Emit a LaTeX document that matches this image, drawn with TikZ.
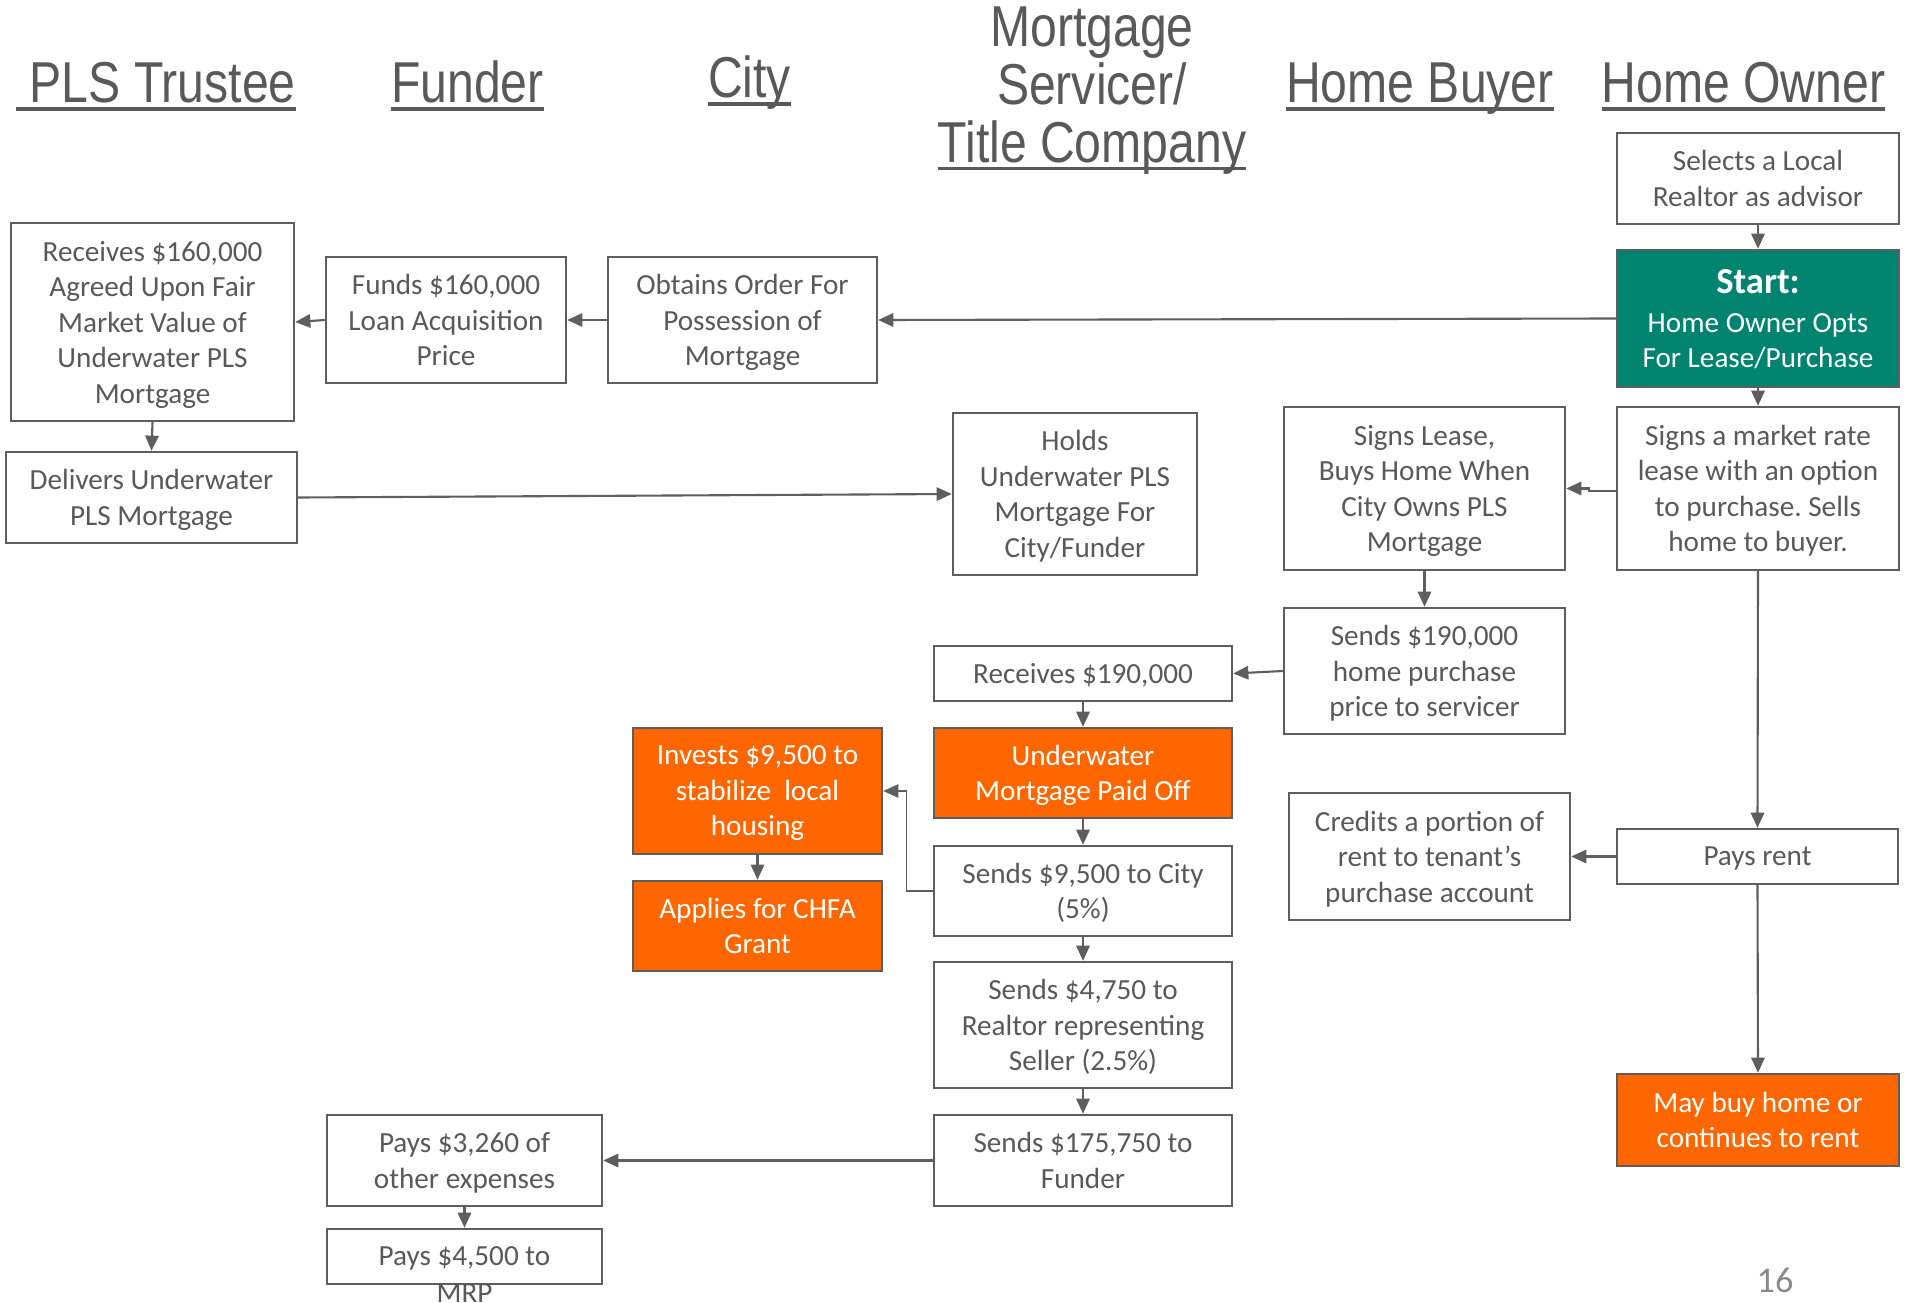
\documentclass[tikz,border=0pt]{standalone}
\usepackage{fontspec}
\setmainfont{Carlito}
\newfontfamily\hdfont[FakeStretch=0.835]{Liberation Sans}
\usepackage{tikz}
\usetikzlibrary{positioning}
\usetikzlibrary{arrows.meta}
\frenchspacing

\definecolor{txtgray}{HTML}{595959}
\definecolor{lngray}{HTML}{5E5E5E}
\definecolor{numgray}{HTML}{8A8A8A}
\definecolor{startgreen}{HTML}{00836F}
\definecolor{hotorange}{HTML}{FF6600}

\newcommand{\hdline}[1]{\setbox0=\hbox{#1}\rlap{\rule[-2.4pt]{\wd0}{1pt}}\box0}

\begin{document}
\begin{tikzpicture}[x=0.01cm, y=-0.01cm]
    \tikzstyle{hd}=[text=txtgray, inner sep=0pt, font=\hdfont\fontsize{16.4}{16.4}\selectfont];
    \tikzstyle{box}=[draw=lngray, line width=0.7pt, rectangle, inner sep=0pt, align=center,
        text=txtgray, font=\fontsize{8.3}{10.1}\selectfont, text depth=0pt];
    \tikzstyle{hot}=[box, fill=hotorange, text=white];
    \tikzstyle{go}=[box, fill=startgreen, text=white];
    \tikzstyle{arr}=[draw=lngray, line width=0.6pt, -{Triangle[length=4.3pt, width=3.8pt]}];
    \tikzset{sz/.style 2 args={minimum width=#1*0.01cm, minimum height=#2*0.01cm}}
    \path[fill=white, use as bounding box] (0,0) rectangle (1908,1303);

    % column heads
    \node[hd, anchor=base] (pls) at (156,102.5) {\hdline{\ PLS Trustee}};
    \node[hd, anchor=base] (fund) at (467.5,102.5) {\hdline{Funder}};
    \node[hd, anchor=base] (city) at (749.5,97.5) {\hdline{City}};
    \node[hd, align=center] (msvc) at (1092,90.5) {Mortgage\\Servicer/\\\hdline{Title Company}};
    \node[hd, anchor=base] (buyer) at (1420,102.5) {\hdline{Home Buyer}};
    \node[hd, anchor=base] (owner) at (1743.5,102.5) {\hdline{Home Owner}};

    % home owner
    \node[box, sz={282}{91}] (select) at (1758,178.5) {Selects a Local\\Realtor as advisor};
    \node[go, sz={282}{137}] (start) at (1758,318.5)
        {{\fontsize{10.4}{12}\selectfont\bfseries Start:}\\[1pt]Home Owner Opts\\For Lease/Purchase};
    \node[box, sz={282}{163}] (market) at (1758,488.5)
        {Signs a market rate\\lease with an option\\to purchase. Sells\\home to buyer.};
    \node[box, sz={281}{55}] (rent) at (1757.5,856.5) {Pays rent};
    \node[hot, sz={282}{92}] (maybuy) at (1758,1120) {May buy home or\\continues to rent};

    % home buyer
    \node[box, sz={281}{163}] (lease) at (1424.5,488.5)
        {Signs Lease,\\Buys Home When\\City Owns PLS\\Mortgage};
    \node[box, sz={281}{126}] (send190) at (1424.5,671)
        {Sends \$190,000\\home purchase\\price to servicer};
    \node[box, sz={281}{127}] (credit) at (1429.5,856.5)
        {Credits a portion of\\rent to tenant’s\\purchase account};

    % servicer / title company
    \node[box, sz={244}{162}] (holds) at (1075,494)
        {Holds\\Underwater PLS\\Mortgage For\\City/Funder};
    \node[box, sz={298}{55}] (rcv190) at (1083,673.5) {Receives \$190,000};
    \node[hot, sz={298}{90}] (paidoff) at (1083,773) {Underwater\\Mortgage Paid Off};
    \node[box, sz={298}{90}] (city5) at (1083,891) {Sends \$9,500 to City\\(5\%)};
    \node[box, sz={298}{126}] (realtor) at (1083,1025)
        {Sends \$4,750 to\\Realtor representing\\Seller (2.5\%)};
    \node[box, sz={298}{91}] (funder) at (1083,1160.5) {Sends \$175,750 to\\Funder};

    % city
    \node[box, sz={269}{126}] (order) at (742.5,320) {Obtains Order For\\Possession of\\Mortgage};
    \node[hot, sz={249}{126}] (invest) at (757.5,791) {Invests \$9,500 to\\stabilize~ local\\housing};
    \node[hot, sz={249}{90}] (chfa) at (757.5,926) {Applies for CHFA\\Grant};

    % funder
    \node[box, sz={240}{126}] (funds) at (446,320) {Funds \$160,000\\Loan Acquisition\\Price};
    \node[box, sz={275}{91}] (expense) at (464.5,1160.5) {Pays \$3,260 of\\other expenses};
    \node[box, sz={275}{55}] (mrp) at (464.5,1256.5) {Pays \$4,500 to};
    \node[text=txtgray, inner sep=0pt, anchor=base, font=\fontsize{8.3}{10.1}\selectfont]
        (mrptxt) at (464.5,1302) {MRP};

    % pls trustee
    \node[box, sz={283}{198}] (rcv160) at (152.5,322)
        {Receives \$160,000\\Agreed Upon Fair\\Market Value of\\Underwater PLS\\Mortgage};
    \node[box, sz={291}{91}] (deliver) at (151.5,497.5) {Delivers Underwater\\PLS Mortgage};

    \node[text=numgray, inner sep=0pt, anchor=base, font=\fontsize{10.3}{12}\selectfont]
        (pgno) at (1775,1292) {16};

    % flows
    \foreach \a/\b in {select/start, start/market, rcv160/deliver, lease/send190,
                       rcv190/paidoff, paidoff/city5, invest/chfa, city5/realtor,
                       realtor/funder, expense/mrp, market/rent, rent/maybuy} {
        \draw[arr] (\a.south) -- (\b.north);
    }
    \foreach \a/\b in {start/order, order/funds, funds/rcv160, send190/rcv190,
                       funder/expense, rent/credit} {
        \draw[arr] (\a.west) -- (\b.east);
    }
    \draw[arr] (deliver.east) -- (holds.west);
    \draw[arr] ([yshift=-0.7pt]market.west) -- ++(-27,0) |- (lease.east);
    \draw[arr, line width=0.35pt] (city5.west) -- ++(-26,0) |- (invest.east);
\end{tikzpicture}
\end{document}
